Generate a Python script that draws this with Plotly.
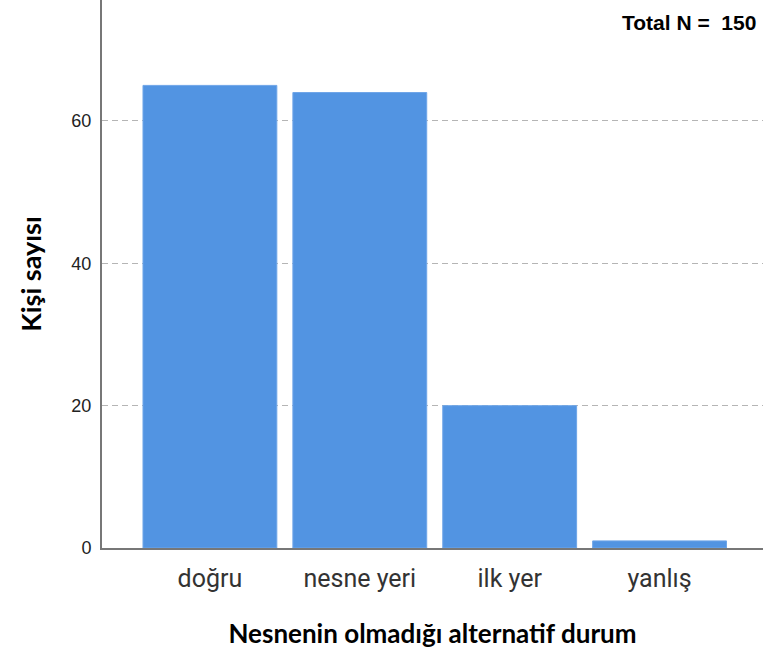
import plotly.graph_objects as go

categories = ["doğru", "nesne yeri", "ilk yer", "yanlış"]
counts = [65, 64, 20, 1]
y_ticks = [0, 20, 40, 60]
total_n = 150

fig = go.Figure()
fig.add_trace(go.Bar(
    x=categories, y=counts, width=0.893,
    marker=dict(color="#5294E2", line=dict(color="#6FA6E8", width=1)),
    hoverinfo="x+y"
))

fig.update_layout(
    width=763, height=656,
    margin=dict(l=102, r=0, t=0, b=108),
    paper_bgcolor="white", plot_bgcolor="white",
    showlegend=False,
    xaxis=dict(
        type="category", range=[-0.72, 3.69],
        showline=True, linecolor="#777", linewidth=2,
        showgrid=False, ticks="", ticklabelstandoff=7,
        tickfont=dict(family="Roboto, Arial", size=25, color="#333"),
        title=dict(text="<b>Nesnenin olmadığı alternatif durum</b>",
                   font=dict(family="Lato, Open Sans", size=26, color="black"),
                   standoff=33),
    ),
    yaxis=dict(
        range=[0, 77], tickvals=y_ticks,
        showline=True, linecolor="#777", linewidth=2,
        showgrid=True, gridcolor="#B5B5B5", griddash="6px,4px", gridwidth=1,
        zeroline=False, ticks="", ticklabelstandoff=5,
        tickfont=dict(family="Arial, Liberation Sans", size=18, color="#222"),
        title=dict(text="<b>Kişi sayısı</b>",
                   font=dict(family="Lato, Open Sans", size=27, color="black"),
                   standoff=22),
    ),
    annotations=[dict(
        text="<b>Total N =  %d</b>" % total_n,
        xref="paper", yref="paper", x=0.993, y=0.984,
        xanchor="right", yanchor="top", showarrow=False,
        font=dict(family="Arial, Liberation Sans", size=21, color="black"),
    )],
)

fig.write_html("out.html", config={"displayModeBar": False},
               post_script="document.body.style.margin='0';")
